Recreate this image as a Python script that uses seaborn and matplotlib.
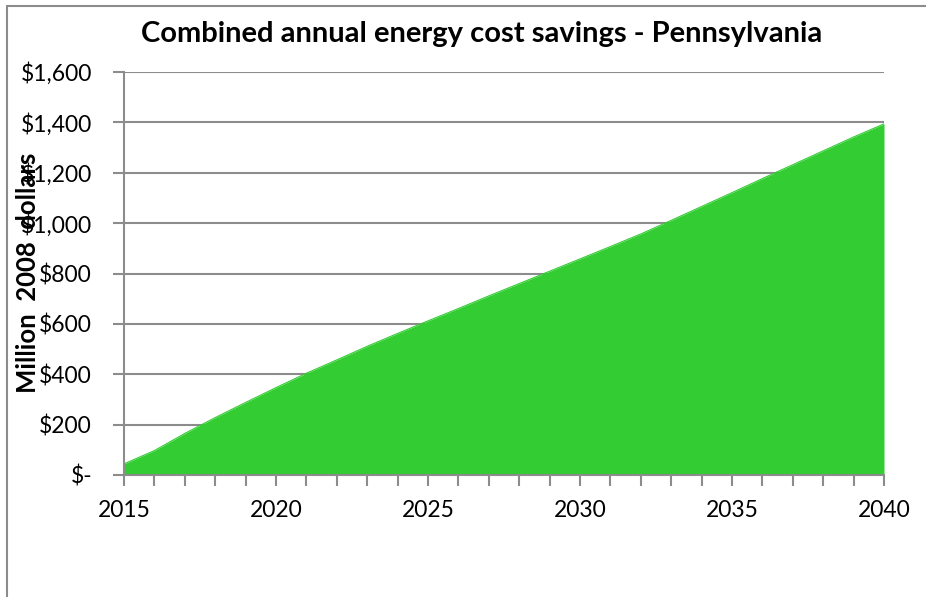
import matplotlib
matplotlib.use("Agg")
import matplotlib.pyplot as plt
import seaborn as sns
import pandas as pd
from matplotlib.lines import Line2D

years = list(range(2015, 2041))
savings = [44, 97, 165, 228, 288, 347, 404, 457, 511, 562, 612, 661, 711,
           760, 809, 858, 907, 957, 1011, 1066, 1121, 1177, 1232, 1287, 1342, 1394]
y_ticks = [0, 200, 400, 600, 800, 1000, 1200, 1400, 1600]
y_tick_labels = ["$-", "$200", "$400", "$600", "$800", "$1,000", "$1,200", "$1,400", "$1,600"]
x_major = [2015, 2020, 2025, 2030, 2035, 2040]
title = "Combined annual energy cost savings - Pennsylvania"
ylabel = "Million  2008  dollars"

df = pd.DataFrame({"year": years, "savings": savings})

sns.set_style("white")
plt.rcParams['font.family'] = ['Lato', 'DejaVu Sans']

fig = plt.figure(figsize=(9.26, 5.97), dpi=100)
ax = fig.add_axes([124/926, 1-475/597, (884-124)/926, (475-72)/597])

green = "#33CC33"
sns.lineplot(data=df, x="year", y="savings", ax=ax, color=green, linewidth=0.8)
ax.fill_between(df["year"], 0, df["savings"], color=green, linewidth=0, zorder=2)

ax.set_xlim(2015, 2040)
ax.set_ylim(0, 1600)
ax.set_yticks(y_ticks)
ax.set_yticklabels(y_tick_labels)
ax.set_xticks(x_major)
ax.set_xticklabels([str(v) for v in x_major])
ax.set_xticks(years, minor=True)

grid_c = "#8c8c8c"
ax.yaxis.grid(True, color=grid_c, linewidth=1.5, zorder=0)
ax.set_axisbelow(True)
for s in ["top", "right"]:
    ax.spines[s].set_visible(False)
for s in ["left", "bottom"]:
    ax.spines[s].set_color(grid_c)
    ax.spines[s].set_linewidth(1.5)
    ax.spines[s].set_zorder(5)

ax.tick_params(axis="both", which="both", direction="out", length=8, width=1.5,
               color=grid_c, labelsize=16.5, labelcolor="black")
ax.tick_params(axis="x", which="both", bottom=True, pad=10)
ax.tick_params(axis="y", which="major", left=True, pad=15)

ax.set_xlabel("")
ax.set_ylabel("")
fig.text(28/926, 1-273/597, ylabel, rotation=90, ha="center", va="center",
         fontsize=18.5, fontweight="bold", color="black")
fig.text(482/926, 1-34/597, title, ha="center", va="center",
         fontsize=21, fontweight="bold", color="black")

border_c = "#8c8c8c"
fig.add_artist(Line2D([7/926, 1.0], [1-6/597, 1-6/597], transform=fig.transFigure,
                      color=border_c, linewidth=1.5))
fig.add_artist(Line2D([7/926, 7/926], [0.0, 1-6/597], transform=fig.transFigure,
                      color=border_c, linewidth=1.5))

fig.savefig("out.png", dpi=100, facecolor="white")
